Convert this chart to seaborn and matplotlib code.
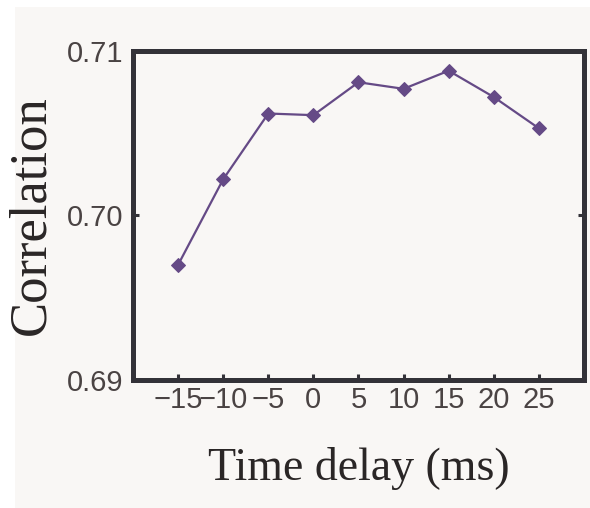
import matplotlib
matplotlib.use('Agg')
import matplotlib.pyplot as plt
import matplotlib.patches as mpatches
import pandas as pd
import seaborn as sns

# data
delays = [-15, -10, -5, 0, 5, 10, 15, 20, 25]
correlation = [0.6970, 0.7022, 0.7062, 0.7061, 0.7081, 0.7077, 0.7088, 0.7072, 0.7053]
xticks = [-15, -10, -5, 0, 5, 10, 15, 20, 25]
yticks = [0.69, 0.70, 0.71]
ytick_labels = ['0.69', '0.70', '0.71']

bg = '#f9f7f5'
spine_col = '#333238'
text_col = '#4a4343'
line_col = '#654a86'

sns.set_style('white')

df = pd.DataFrame({'delay': delays, 'corr': correlation})

fig = plt.figure(figsize=(5.9, 5.08), dpi=100, facecolor=bg)
ax = fig.add_axes([0.2254, 0.252, 0.9898 - 0.2254, 0.8996 - 0.252])
ax.set_facecolor(bg)

# white border of the original scan
fig.patches.append(mpatches.Rectangle((0, 0), 15 / 590, 1, transform=fig.transFigure,
                                      facecolor='white', edgecolor='none', zorder=-1))
fig.patches.append(mpatches.Rectangle((0, 1 - 7 / 508), 1, 7 / 508, transform=fig.transFigure,
                                      facecolor='white', edgecolor='none', zorder=-1))

sns.lineplot(data=df, x='delay', y='corr', ax=ax,
             color=line_col, linewidth=1.6,
             marker='D', markersize=7, markeredgecolor=line_col,
             markerfacecolor=line_col)

ax.set_xlim(-20, 30)
ax.set_ylim(0.69, 0.71)

ax.set_xticks(xticks)
ax.set_xticklabels([str(t).replace('-', '\u2212') for t in xticks])
ax.set_yticks(yticks)
ax.set_yticklabels(ytick_labels)

for s in ax.spines.values():
  s.set_color(spine_col)
  s.set_linewidth(3.6)
  s.set_visible(True)

ax.tick_params(axis='x', direction='in', length=4, width=2.2, color=spine_col,
               bottom=True, top=False, pad=4, labelsize=21, labelcolor=text_col)
ax.tick_params(axis='y', direction='in', length=4, width=2.2, color=spine_col,
               left=True, right=True, pad=7, labelsize=21, labelcolor=text_col)

for lab in ax.get_xticklabels() + ax.get_yticklabels():
  lab.set_family('Liberation Sans')

ax.set_xlabel('Time delay (ms)', family='Liberation Serif', fontsize=33,
              color='#2a2626', labelpad=24)
ax.set_ylabel('Correlation', family='Liberation Serif', fontsize=38,
              color='#2a2626', labelpad=8)

fig.savefig('out.png', dpi=100, facecolor=bg)
